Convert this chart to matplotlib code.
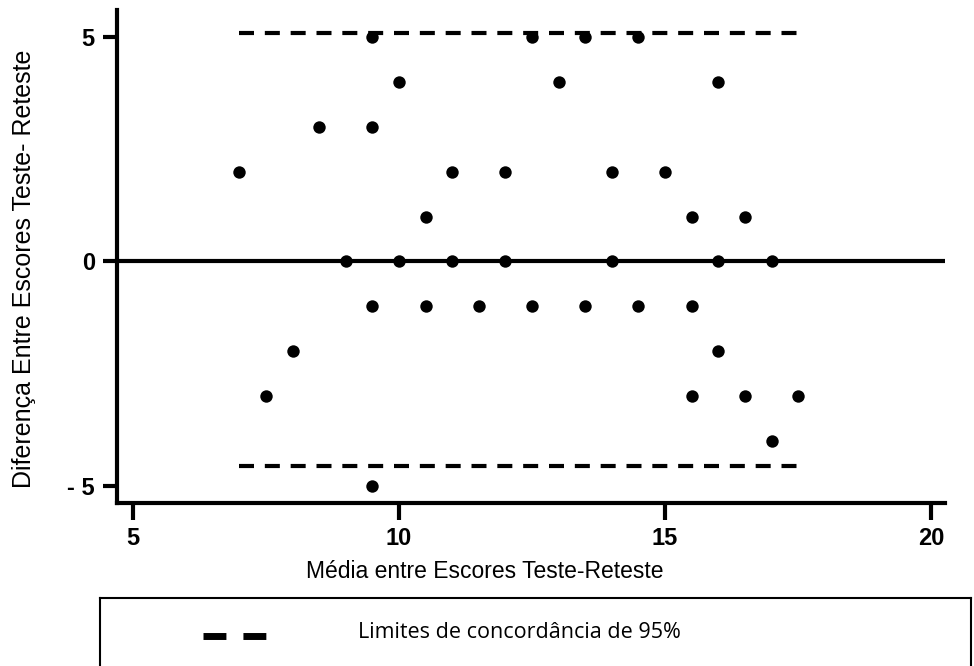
import matplotlib
matplotlib.use("Agg")
import matplotlib.pyplot as plt
from matplotlib.lines import Line2D

# Data (Bland-Altman: mean vs difference)
media = [7, 8.5, 9.5, 9.5, 10, 10.5, 11, 12, 12.5, 13, 13.5, 14, 14.5, 15, 15.5, 16, 16.5,
         9, 10, 11, 12, 14, 16, 17,
         9.5, 10.5, 11.5, 12.5, 13.5, 14.5, 15.5,
         8, 16,
         7.5, 15.5, 16.5, 17.5,
         17,
         9.5]
diferenca = [2, 3, 3, 5, 4, 1, 2, 2, 5, 4, 5, 2, 5, 2, 1, 4, 1,
             0, 0, 0, 0, 0, 0, 0,
             -1, -1, -1, -1, -1, -1, -1,
             -2, -2,
             -3, -3, -3, -3,
             -4,
             -5]
limite_superior = 5.09
limite_inferior = -4.56
vies = 0.0
limites_x = [7, 17.5]
xticks = [5, 10, 15, 20]
yticks = [-5, 0, 5]
yticklabels = ["- 5", "0", "5"]
legenda = "Limites de concordância de 95%"

plt.rcParams['font.family'] = ['Liberation Sans', 'DejaVu Sans']

W, H = 974, 666
fig = plt.figure(figsize=(W/100, H/100), dpi=100)
ax = fig.add_axes([117/W, (H-503)/H, (945-117)/W, (503-10)/H])

ax.axhline(vies, color='black', lw=3, zorder=2)
for lim in (limite_superior, limite_inferior):
    ax.plot(limites_x, [lim, lim], color='black', lw=3, dashes=(3.6, 2.6),
            solid_capstyle='butt', dash_capstyle='butt', zorder=2)
ax.scatter(media, diferenca, s=80, color='black', marker='o', zorder=3, linewidths=0)

ax.set_xlim(4.70, 20.26)
ax.set_ylim(-5.38, 5.6)
ax.set_xticks(xticks)
ax.set_yticks(yticks)
ax.set_yticklabels(yticklabels)
for s in ('top', 'right'):
    ax.spines[s].set_visible(False)
for s in ('left', 'bottom'):
    ax.spines[s].set_linewidth(3)
ax.tick_params(axis='y', width=3, length=10, labelsize=17, pad=6)
ax.tick_params(axis='x', width=3, length=12, labelsize=17, pad=5)
for lab in ax.get_xticklabels() + ax.get_yticklabels():
    lab.set_fontweight('bold')

ax.set_xlabel("Média entre Escores Teste-Reteste", fontsize=16.5)
ax.set_ylabel("Diferença Entre Escores Teste- Reteste", fontsize=18)
ax.xaxis.set_label_coords((485-117)/828, -(572-503)/493)
ax.yaxis.set_label_coords(-(117-24)/828, (503-269)/493)
ax.xaxis.label.set_va('center')
ax.yaxis.label.set_va('center')

# Legend box
lax = fig.add_axes([100/W, -0.02, (971-100)/W, (666-598)/H + 0.02])
lax.set_xlim(0, 1)
lax.set_ylim(0, 1)
lax.set_xticks([])
lax.set_yticks([])
for s in lax.spines.values():
    s.set_linewidth(1.5)
tot = (666-598) + 0.02*H
ly = 1 - (636-598) / tot
lax.add_line(Line2D([(203-100)/871, (266-100)/871], [ly, ly], color='black', lw=5,
                    dashes=(3.3, 2.45), dash_capstyle='butt', solid_capstyle='butt'))
lax.text((358-100)/871, 1 - (632-598) / tot, legenda, fontsize=15.5, va='center', ha='left',
         family=['Open Sans', 'DejaVu Sans'])

fig.savefig("out.png", dpi=100)
